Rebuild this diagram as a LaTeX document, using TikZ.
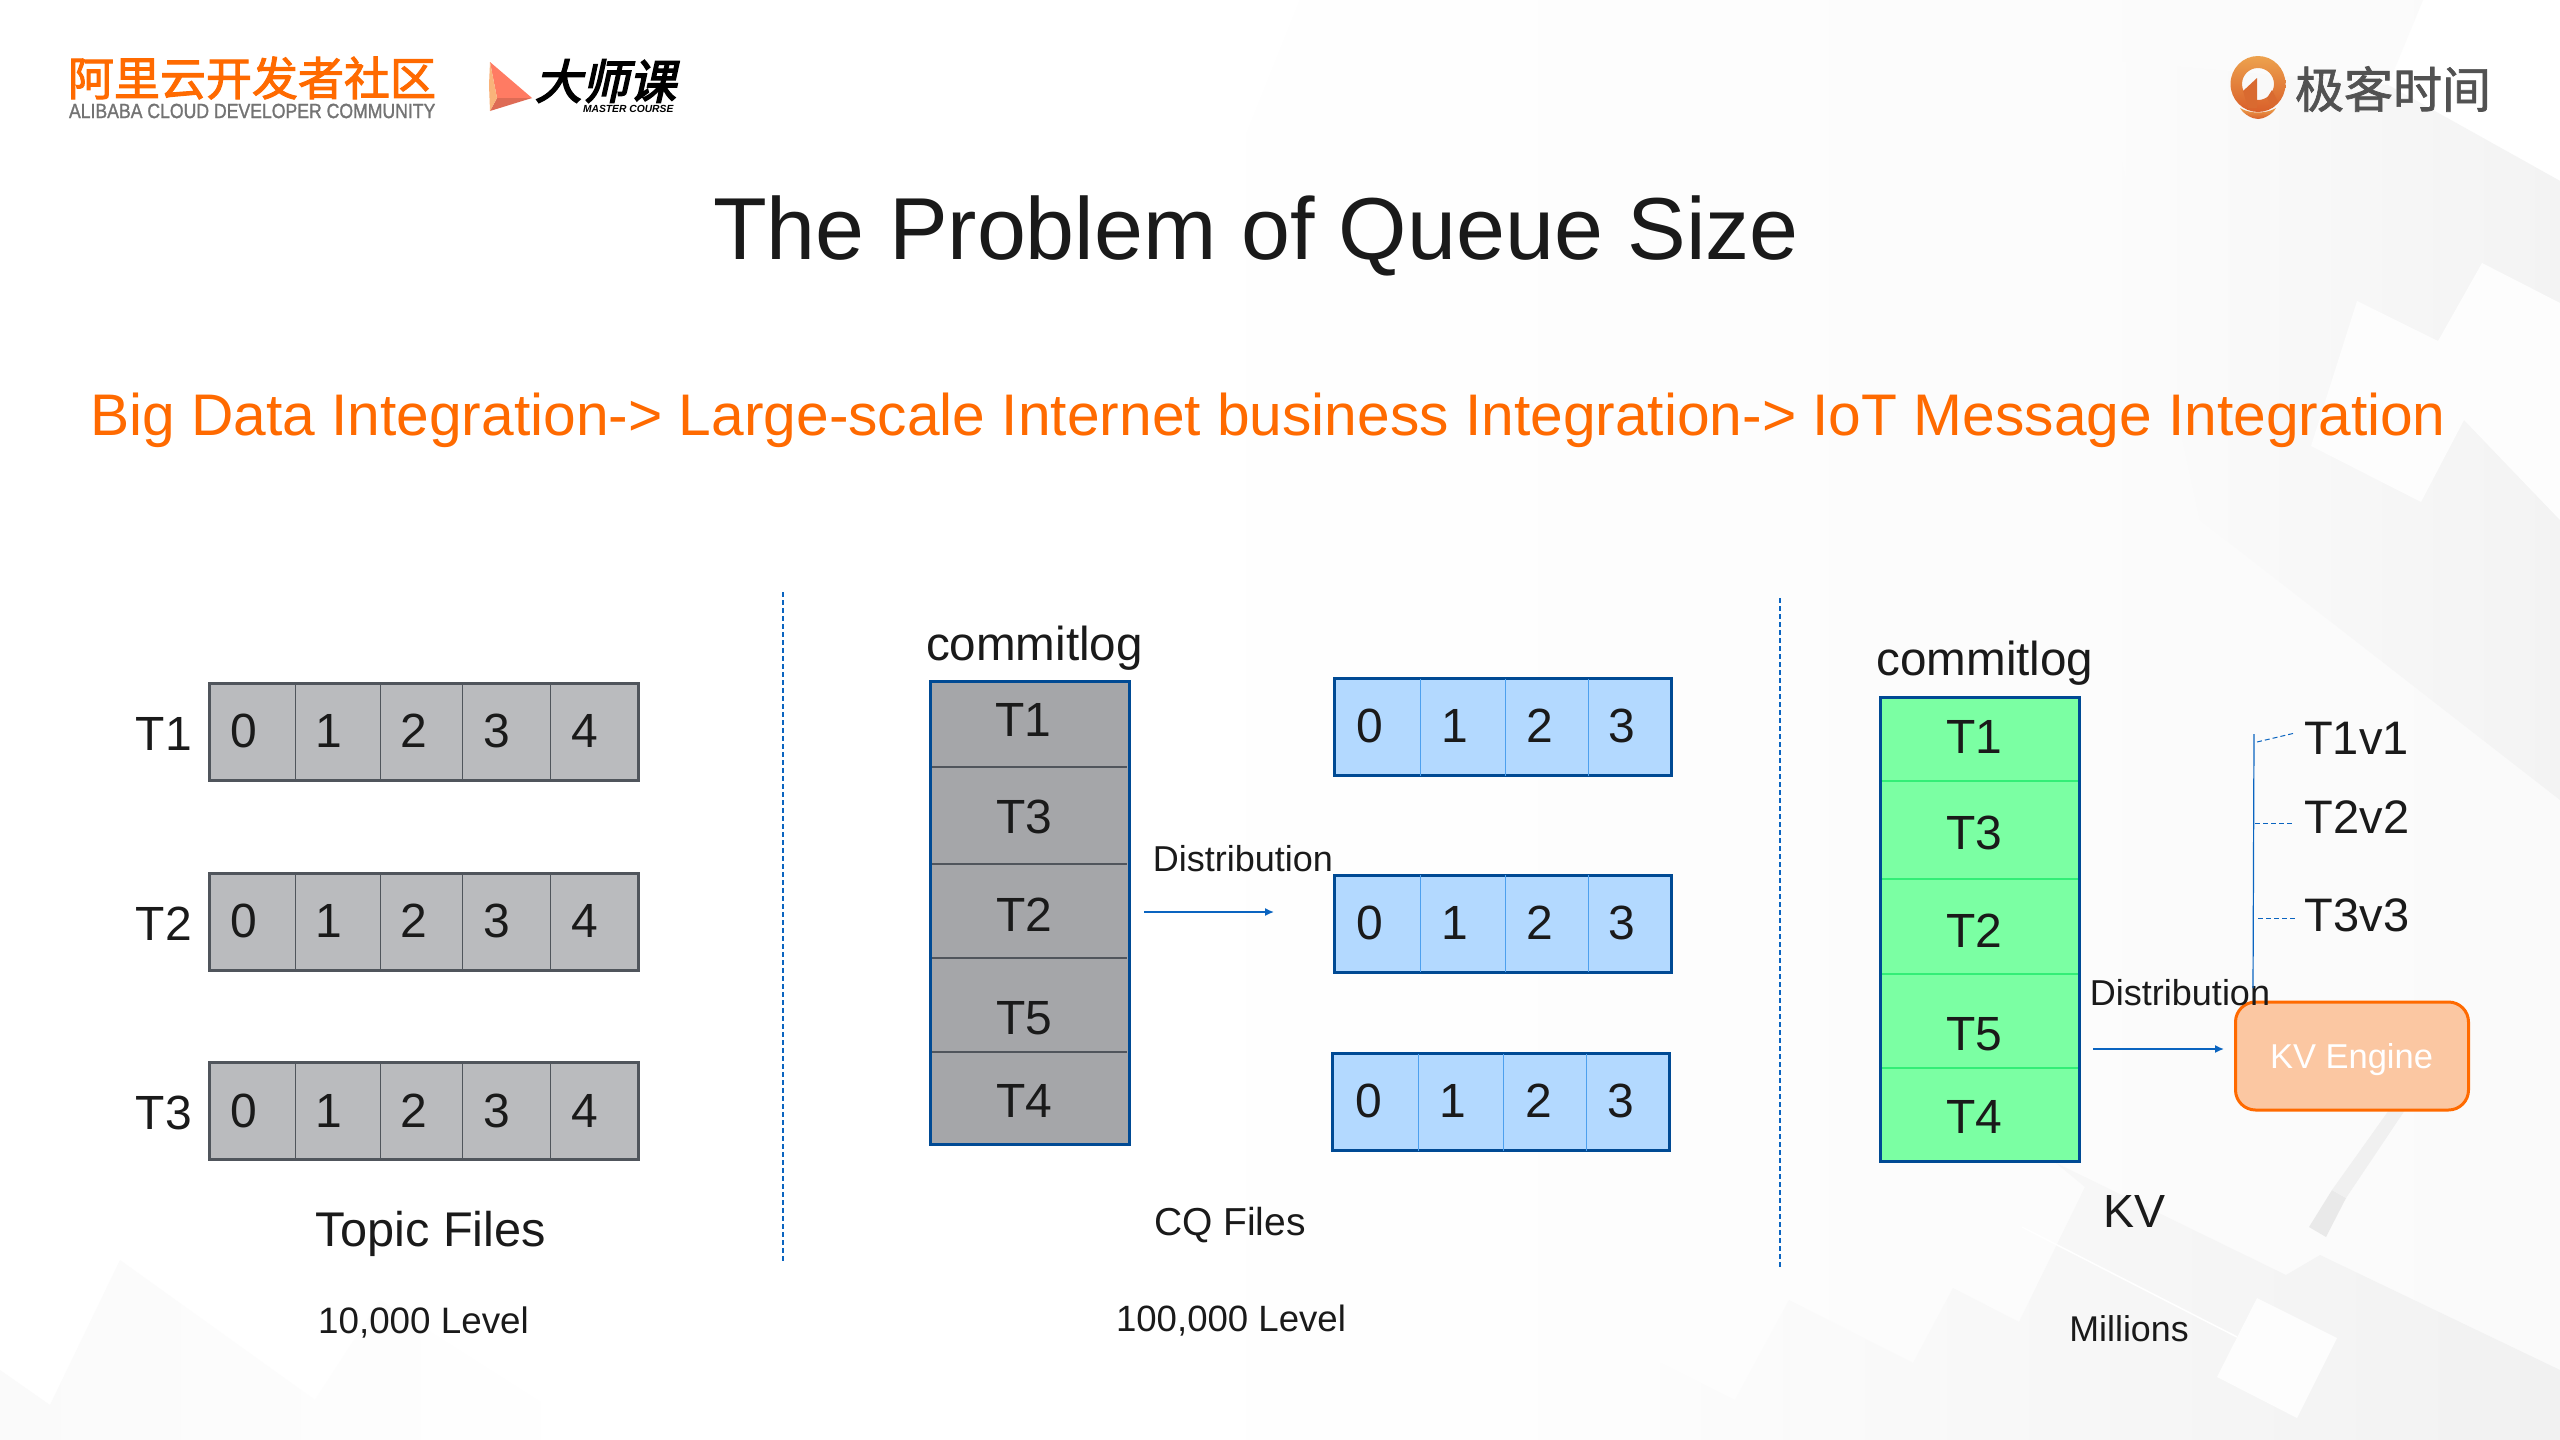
\documentclass[tikz,border=0pt]{standalone}
\usepackage{fontspec}
\setmainfont{Liberation Sans}
\newfontfamily\cjk[FakeBold=2.2]{Noto Sans CJK SC}
\newfontfamily\cjkg[FakeBold=1.4]{Noto Sans CJK SC}
\newfontfamily\cjkit[FakeSlant=0.22,FakeBold=3.5]{Noto Sans CJK SC}
\newfontfamily\cond[FakeStretch=0.86,FakeBold=1.3]{Liberation Sans}
\usetikzlibrary{arrows.meta}
\definecolor{ink}{HTML}{1A1A1A}
\definecolor{ali}{HTML}{FF6A00}
\definecolor{topicfill}{HTML}{BABBBE}
\definecolor{topicline}{HTML}{50555C}
\definecolor{cmfill}{HTML}{A5A6A9}
\definecolor{navy}{HTML}{004A94}
\definecolor{sky}{HTML}{B3D9FF}
\definecolor{skyline}{HTML}{4DA0EE}
\definecolor{mint}{HTML}{7BFFA3}
\definecolor{mintline}{HTML}{33EE77}
\definecolor{peach}{HTML}{FCC39B}
\definecolor{arrowblue}{HTML}{0A64C0}
\definecolor{gFA}{HTML}{FAFAFA}
\definecolor{gF3}{HTML}{F3F3F3}
\definecolor{gFC}{HTML}{FCFCFC}
\definecolor{gF1}{HTML}{F1F1F1}
\definecolor{gFD}{HTML}{FDFDFD}
\definecolor{gE9}{HTML}{E9E9E9}
\definecolor{gF0}{HTML}{F0F0F0}
\definecolor{gF7}{HTML}{F7F7F7}
\definecolor{tipA}{HTML}{FF7B63}
\definecolor{tipB}{HTML}{DE6B55}
\definecolor{tipC}{HTML}{F9B37A}
\definecolor{pinA}{HTML}{EDA24E}
\definecolor{pinB}{HTML}{D95F2A}
\definecolor{pinC}{HTML}{D96A30}
\newcommand{\fs}[1]{\fontsize{#1pt}{#1pt}\selectfont}
\tikzset{
  tx/.style={inner sep=0pt,outer sep=0pt,text=ink,font=\fs{48}},
  topicbox/.style={draw=topicline,line width=3pt,fill=topicfill,inner sep=0pt},
  cmbox/.style={draw=navy,line width=3pt,fill=cmfill,inner sep=0pt},
  cqbox/.style={draw=navy,line width=3pt,fill=sky,inner sep=0pt},
  mintbox/.style={draw=navy,line width=3pt,fill=mint,inner sep=0pt},
  kvbox/.style={draw=ali,line width=3pt,fill=peach,fill opacity=.92,text opacity=1,rounded corners=20pt,inner sep=0pt},
  sep/.style={draw=arrowblue,line width=1.2pt,dash pattern=on 5pt off 3pt},
  flow/.style={draw=arrowblue,line width=1.5pt,-{Latex[length=9pt,width=8pt]}},
  thin dash/.style={draw=arrowblue,line width=1pt,dash pattern=on 5pt off 3pt}
}
\begin{document}
\begin{tikzpicture}[x=1pt,y=-1pt]
\useasboundingbox (0,0) rectangle (2560,1440);
% background
\fill[white] (0,0) rectangle (2560,1440);
\shade[left color=white,right color=gFA] (1300,0) -- (2423,0) -- (2388,85) -- (2560,181) -- (2560,1440) -- (1100,1440) -- (1100,500) -- cycle;
\shade[left color=gFC,right color=gF3] (2100,60) -- (2388,85) -- (2560,181) -- (2560,800) -- (2200,520) -- cycle;
\fill[gFD] (2357,301) -- (2438,341) -- (2482,263) -- (2560,303) -- (2560,520) -- (2464,420) -- (2421,502) -- (2311,446) -- cycle;
\shade[left color=gFC,right color=gF1] (1660,1363) -- (1735,1400) -- (1789,1300) -- (1913,1363) -- (1953,1288) -- (2019,1322) -- (2085,1187) -- (2056,1163) -- (2286,1275) -- (2320,1255) -- (2560,1370) -- (2560,1440) -- (1660,1440) -- cycle;
\fill[gFD] (2257,1298) -- (2337,1338) -- (2297,1418) -- (2217,1377) -- cycle;
\fill[gE9] (2332,1190) -- (2346,1198) -- (2326,1237) -- (2309,1227) -- cycle;
\fill[gF0] (2389,1110) -- (2405,1110) -- (2346,1198) -- (2332,1190) -- cycle;
\draw[white,line width=1.5pt] (2022,1227) -- (2237,1337);
\shade[left color=gFA,right color=white] (0,1370) -- (50,1405) -- (120,1260) -- (315,1400) -- (380,1300) -- (600,1440) -- (0,1440) -- cycle;
% logos
\node[tx,text=ali,font=\cjk\fs{46},anchor=west] (alicn) at (68,78) {阿里云开发者社区};
\node[tx,text=black!55,font=\cond\fs{20.5},anchor=west] (alien) at (69,111) {ALIBABA CLOUD DEVELOPER COMMUNITY};
\fill[tipA] (490,62) -- (532,98) -- (497,98) -- cycle;
\fill[tipB] (497,98) -- (532,98) -- (490,111) -- cycle;
\fill[tipC] (490,62) -- (497,98) -- (490,111) -- (489,85) -- cycle;
\node[tx,text=black,font=\cjkit\fs{47},anchor=west] (mastercn) at (535,81) {大师课};
\node[tx,text=black,font=\bfseries\itshape\fs{10.3},anchor=west] (masteren) at (583,109) {MASTER COURSE};
\shade[top color=pinA,bottom color=pinB,even odd rule] (2258,84) circle[x radius=27.5,y radius=28] (2258,84) circle[radius=16];
\fill[pinC] (2243,91) -- (2257,78) -- (2257,108) -- (2248,108) -- cycle;
\fill[pinC] (2267,98) -- (2272,90) -- (2278,102) -- (2272,108) -- cycle;
\shade[top color=pinA,bottom color=pinB] (2240,108) .. controls (2250,114) and (2266,114) .. (2276,108) .. controls (2272,115) and (2263,119) .. (2258,119) .. controls (2253,119) and (2244,115) .. (2240,108) -- cycle;
\node[tx,text=black!68,font=\cjkg\fs{49},anchor=west] (geek) at (2295,89) {极客时间};
% title
\node[tx,font=\fs{88}] (title) at (1256,236) {The Problem of Queue Size};
\node[tx,text=ali,font=\fs{58.7}] (subtitle) at (1268,420) {Big Data Integration-> Large-scale Internet business Integration-> IoT Message Integration};
% separators
\coordinate (sepAa) at (783,592); \coordinate (sepAb) at (783,1262);
\coordinate (sepBa) at (1780,598); \coordinate (sepBb) at (1780,1268);
\draw[sep] (sepAa) -- (sepAb);
\draw[sep] (sepBa) -- (sepBb);
% left column
\foreach \r/\y/\lab in {a/731.5/T1,b/921.5/T2,c/1111/T3}{
  \node[topicbox,minimum width=429pt,minimum height=97pt] (top\r) at (423.5,\y) {};
  \foreach \x in {295,380,462,550}{
    \draw[topicline,line width=1pt] (\x,\y-48.5) -- (\x,\y+48.5);
  }
  \node[tx] (lab\r) at (164,\y+2) {\lab};
  \foreach \n/\x in {0/244,1/329,2/414,3/497,4/584.5}{
    \node[tx] (num\r\n) at (\x,\y-0.5) {\n};
  }
}
\node[tx,font=\fs{48.7}] (topicfiles) at (431,1234) {Topic Files};
\node[tx,font=\fs{36.8}] (lvlA) at (423.5,1323) {10,000 Level};
% middle column
\node[tx,font=\fs{47.6}] (cmA) at (1034.5,648) {commitlog};
\node[cmbox,minimum width=199pt,minimum height=463pt] (cmlog) at (1029.5,912.5) {};
\foreach \y in {767,864,958,1052}{
  \draw[topicline,line width=1.3pt] (932,\y) -- (1127,\y);
}
\foreach \t/\x/\y in {T1/1023.5/720,T3/1024/817,T2/1024/915,T5/1024/1018,T4/1024/1101}{
  \node[tx] (cm\t) at (\x,\y) {\t};
}
\foreach \r/\y/\dx in {a/727/0,b/923.5/0,c/1102/-1.5}{
  \node[cqbox,minimum width=337pt,minimum height=97pt] (cq\r) at (1502.5+\dx,\y) {};
  \foreach \x in {1420,1505,1588}{
    \draw[skyline,line width=1pt] (\x+\dx,\y-48.5) -- (\x+\dx,\y+48.5);
  }
  \foreach \n/\x in {0/1370,1/1454.5,2/1540,3/1622}{
    \node[tx] (cq\r\n) at (\x+\dx,\y-1) {\n};
  }
}
\node[tx,font=\fs{36}] (distA) at (1243,859) {Distribution};
\coordinate (flowAa) at (1144,912); \coordinate (flowAb) at (1274,912);
\draw[flow] (flowAa) -- (flowAb);
\node[tx,font=\fs{39}] (cqfiles) at (1230,1225) {CQ Files};
\node[tx,font=\fs{36.6}] (lvlB) at (1231,1321) {100,000 Level};
% right column
\node[tx,font=\fs{47.6}] (cmB) at (1985,663) {commitlog};
\node[mintbox,minimum width=199pt,minimum height=464pt] (mlog) at (1980,929) {};
\foreach \y in {781,879,974,1068}{
  \draw[mintline,line width=1.3pt] (1882,\y) -- (2078,\y);
}
\foreach \t/\y in {T1/737,T3/833,T2/931,T5/1034,T4/1117}{
  \node[tx] (m\t) at (1974,\y) {\t};
}
\node[kvbox,minimum width=233pt,minimum height=108pt] (kv) at (2352,1056) {};
\node[tx,text=white,font=\fs{34.5}] (kvtext) at (2351.5,1060) {KV Engine};
\node[tx,font=\fs{36}] (distB) at (2180,993) {Distribution};
\coordinate (flowBa) at (2093,1049); \coordinate (flowBb) at (2224,1049);
\draw[flow] (flowBa) -- (flowBb);
\node[tx,font=\fs{47}] (vA) at (2356.5,738) {T1v1};
\node[tx,font=\fs{47}] (vB) at (2357,817) {T2v2};
\node[tx,font=\fs{47}] (vC) at (2357,915) {T3v3};
\coordinate (barTop) at (2254,734); \coordinate (barBot) at (2253,988);
\draw[arrowblue,line width=1.2pt] (barTop) -- (barBot);
\coordinate (dAa) at (2257,742); \coordinate (dAb) at (2295,733);
\coordinate (dBa) at (2255,823); \coordinate (dBb) at (2293,823);
\coordinate (dCa) at (2258,918); \coordinate (dCb) at (2296,918);
\draw[thin dash] (dAa) -- (dAb);
\draw[thin dash] (dBa) -- (dBb);
\draw[thin dash] (dCa) -- (dCb);
\node[tx,font=\fs{46.5}] (kvlab) at (2134,1211) {KV};
\node[tx,font=\fs{35.8}] (mill) at (2129,1329) {Millions};
\end{tikzpicture}
\end{document}
